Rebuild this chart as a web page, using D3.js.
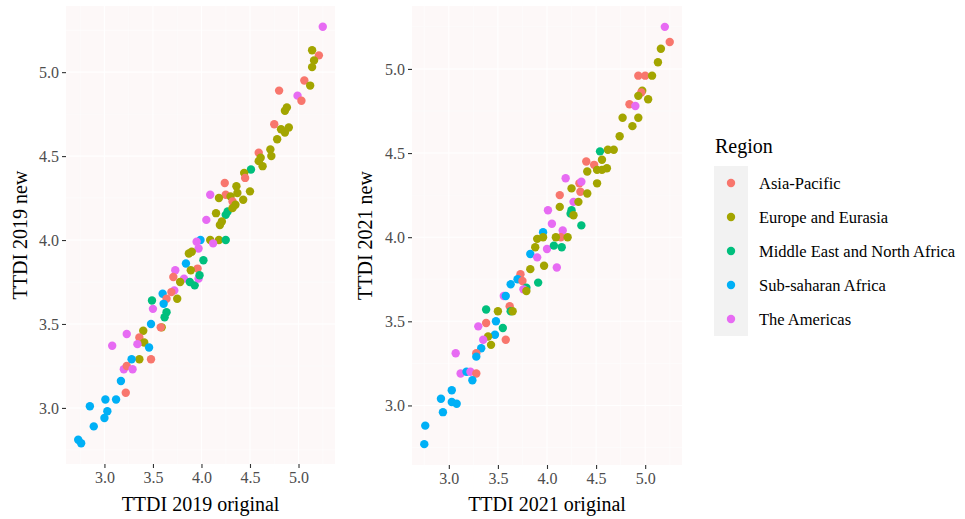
<!DOCTYPE html>
<html>
  <head>
    <meta http-equiv="Content-Type" content="text/html;charset=utf-8"/>
    <title>TTDI original vs new</title>
    <script src="https://d3js.org/d3.v7.min.js"></script>
  </head>
  <body>
    <div id="content"></div>
    <style>
      body { margin: 0; background: #fff; }
      #content { position: relative; }
      text { font-family: "Liberation Serif", "DejaVu Serif", serif; }
    </style>
    <script type="text/javascript">

        // region names and ggplot default hue colours
        const regions = ['Asia-Pacific', 'Europe and Eurasia', 'Middle East and North Africa', 'Sub-saharan Africa', 'The Americas']
        const regionColors = ['#F8766D', '#A3A500', '#00BF7D', '#00B0F6', '#E76BF3']

        // 2019 panel: original score, new score, region index
        const orig2019 = [
            5.25, 5.14, 5.21, 5.16, 5.14, 5.06, 5.12, 4.80, 4.99, 5.03,
            4.88, 4.86, 4.75, 4.82, 4.90, 4.86, 4.78, 4.59, 4.71, 4.72,
            4.61, 4.59, 4.63, 4.51, 4.44, 4.45, 4.50, 4.36, 4.37, 4.24,
            4.25, 4.09, 4.18, 4.30, 4.43, 4.32, 4.35, 4.27, 4.25, 4.15,
            4.32, 4.05, 4.21, 4.19, 3.99, 3.95, 4.09, 4.18, 4.25, 4.12,
            3.97, 3.87, 3.90, 4.02, 3.84, 3.96, 3.89, 3.73, 3.71, 3.82,
            3.78, 3.88, 3.93, 3.97, 3.98, 3.72, 3.69, 3.60, 3.75, 3.64,
            3.49, 3.61, 3.50, 3.64, 3.62, 3.48, 3.59, 3.58, 3.23, 3.40,
            3.36, 3.41, 3.34, 3.46, 3.08, 3.36, 3.48, 3.28, 3.20, 3.23,
            3.29, 3.17, 3.22, 3.12, 3.01, 2.85, 3.03, 3.00, 2.89, 2.73,
            2.76
        ]
        const new2019 = [
            5.27, 5.13, 5.10, 5.07, 5.03, 4.95, 4.92, 4.89, 4.86, 4.83,
            4.79, 4.77, 4.69, 4.66, 4.67, 4.64, 4.60, 4.52, 4.54, 4.50,
            4.49, 4.47, 4.44, 4.42, 4.40, 4.37, 4.29, 4.32, 4.28, 4.34,
            4.27, 4.27, 4.25, 4.26, 4.24, 4.23, 4.21, 4.17, 4.15, 4.16,
            4.19, 4.12, 4.11, 4.09, 4.00, 3.99, 4.00, 4.00, 4.00, 3.98,
            3.95, 3.92, 3.93, 3.88, 3.86, 3.83, 3.82, 3.82, 3.78, 3.77,
            3.75, 3.75, 3.73, 3.77, 3.79, 3.70, 3.69, 3.68, 3.65, 3.65,
            3.64, 3.62, 3.59, 3.57, 3.54, 3.50, 3.48, 3.48, 3.44, 3.46,
            3.42, 3.39, 3.38, 3.36, 3.37, 3.29, 3.29, 3.29, 3.23, 3.25,
            3.23, 3.16, 3.09, 3.05, 3.05, 3.01, 2.98, 2.94, 2.89, 2.81,
            2.79
        ]
        const reg2019 = [
            4, 1, 0, 1, 1, 0, 1, 0, 4, 0,
            1, 1, 0, 1, 1, 1, 1, 0, 1, 1,
            1, 1, 1, 2, 1, 0, 1, 1, 1, 0,
            0, 4, 1, 1, 1, 0, 1, 2, 2, 1,
            1, 4, 1, 1, 3, 4, 1, 1, 2, 4,
            4, 1, 1, 2, 3, 0, 1, 4, 0, 4,
            1, 2, 2, 4, 2, 4, 0, 3, 1, 0,
            2, 3, 4, 2, 2, 3, 1, 0, 4, 1,
            0, 1, 4, 3, 4, 1, 0, 3, 4, 0,
            4, 3, 0, 3, 3, 3, 3, 3, 3, 3,
            3
        ]

        // 2021 panel
        const orig2021 = [
            5.20, 5.25, 5.16, 5.13, 4.93, 5.00, 5.07, 4.97, 4.96, 4.93,
            5.03, 4.84, 4.90, 4.77, 4.93, 4.87, 4.74, 4.68, 4.62, 4.54,
            4.40, 4.48, 4.56, 4.41, 4.51, 4.56, 4.61, 4.51, 4.19, 4.33,
            4.35, 4.25, 4.34, 4.41, 4.13, 4.13, 4.27, 4.32, 4.25, 4.24,
            4.27, 4.35, 4.01, 4.05, 3.96, 4.16, 4.14, 4.21, 3.90, 3.96,
            4.09, 4.00, 4.07, 4.15, 3.88, 3.83, 3.90, 3.83, 3.97, 4.10,
            3.73, 3.70, 3.75, 3.91, 3.63, 3.79, 3.76, 3.79, 3.56, 3.58,
            3.38, 3.50, 3.62, 3.63, 3.65, 3.48, 3.30, 3.38, 3.55, 3.47,
            3.40, 3.58, 3.35, 3.43, 3.33, 3.07, 3.28, 3.28, 3.12, 3.18,
            3.22, 3.28, 3.24, 3.03, 2.92, 3.03, 3.08, 2.94, 2.76, 2.75
        ]
        const new2021 = [
            5.25, 5.16, 5.12, 5.04, 4.96, 4.96, 4.96, 4.87, 4.86, 4.84,
            4.82, 4.79, 4.78, 4.71, 4.71, 4.66, 4.60, 4.52, 4.52, 4.51,
            4.45, 4.43, 4.46, 4.39, 4.40, 4.40, 4.41, 4.32, 4.35, 4.32,
            4.33, 4.29, 4.27, 4.26, 4.25, 4.18, 4.21, 4.21, 4.16, 4.14,
            4.13, 4.07, 4.16, 4.08, 4.03, 4.04, 4.00, 4.00, 3.99, 4.00,
            4.00, 3.93, 3.95, 3.94, 3.94, 3.90, 3.88, 3.81, 3.83, 3.82,
            3.78, 3.75, 3.74, 3.73, 3.72, 3.70, 3.69, 3.68, 3.65, 3.65,
            3.57, 3.56, 3.59, 3.56, 3.56, 3.50, 3.47, 3.49, 3.46, 3.42,
            3.41, 3.39, 3.39, 3.36, 3.34, 3.31, 3.31, 3.29, 3.19, 3.20,
            3.20, 3.19, 3.15, 3.09, 3.04, 3.02, 3.01, 2.96, 2.88, 2.77
        ]
        const reg2021 = [
            4, 0, 1, 1, 0, 0, 1, 1, 0, 1,
            1, 0, 4, 1, 1, 1, 1, 1, 1, 2,
            0, 0, 1, 1, 1, 1, 1, 1, 4, 0,
            4, 1, 0, 1, 0, 1, 4, 1, 2, 2,
            1, 2, 4, 4, 3, 4, 0, 1, 1, 1,
            1, 4, 2, 2, 1, 3, 4, 1, 1, 4,
            0, 3, 0, 2, 3, 2, 4, 1, 4, 3,
            2, 1, 0, 2, 1, 3, 4, 0, 2, 3,
            1, 0, 4, 1, 3, 4, 0, 3, 4, 3,
            4, 0, 3, 3, 3, 3, 3, 3, 3, 3
        ]

        const majorTicks = [3.0, 3.5, 4.0, 4.5, 5.0]
        const minorTicks = [2.75, 3.25, 3.75, 4.25, 4.75, 5.25]

        const width = 965,
            height = 519

        const panels = [
            { xs: orig2019, ys: new2019, rs: reg2019, xTitle: 'TTDI 2019 original', yTitle: 'TTDI 2019 new',
              left: 66, right: 335, top: 6, bottom: 464, yTitleX: 27 },
            { xs: orig2021, ys: new2021, rs: reg2021, xTitle: 'TTDI 2021 original', yTitle: 'TTDI 2021 new',
              left: 412, right: 682, top: 6, bottom: 465, yTitleX: 372 }
        ]

        // ggplot style 5% expansion of the data range
        function expand(values) {
            const lo = d3.min(values), hi = d3.max(values)
            const pad = (hi - lo) * 0.05
            return [lo - pad, hi + pad]
        }

        const svg = d3.select('#content').append('svg')
            .attr('width', width)
            .attr('height', height)

        svg.append('rect')
            .attr('width', width)
            .attr('height', height)
            .attr('fill', '#ffffff')

        panels.forEach(p => {
            const n = Math.min(p.xs.length, p.ys.length, p.rs.length)
            const data = d3.range(n).map(i => ({ x: p.xs[i], y: p.ys[i], r: p.rs[i] }))

            const xScale = d3.scaleLinear()
                .domain(expand(p.xs))
                .range([p.left, p.right])
            const yScale = d3.scaleLinear()
                .domain(expand(p.ys))
                .range([p.bottom, p.top])

            const g = svg.append('g')

            g.append('rect')
                .attr('x', p.left)
                .attr('y', p.top)
                .attr('width', p.right - p.left)
                .attr('height', p.bottom - p.top)
                .attr('fill', '#fdf8f8')

            // grid lines (white, barely visible on the pale panel)
            g.selectAll('.minorx')
                .data(minorTicks.filter(t => t > xScale.domain()[0] && t < xScale.domain()[1]))
                .enter().append('line')
                .attr('x1', d => xScale(d)).attr('x2', d => xScale(d))
                .attr('y1', p.top).attr('y2', p.bottom)
                .attr('stroke', '#fefdfd').attr('stroke-width', 0.6)
            g.selectAll('.minory')
                .data(minorTicks.filter(t => t > yScale.domain()[0] && t < yScale.domain()[1]))
                .enter().append('line')
                .attr('y1', d => yScale(d)).attr('y2', d => yScale(d))
                .attr('x1', p.left).attr('x2', p.right)
                .attr('stroke', '#fefdfd').attr('stroke-width', 0.6)
            g.selectAll('.majorx')
                .data(majorTicks)
                .enter().append('line')
                .attr('x1', d => xScale(d)).attr('x2', d => xScale(d))
                .attr('y1', p.top).attr('y2', p.bottom)
                .attr('stroke', '#ffffff').attr('stroke-width', 1.1)
            g.selectAll('.majory')
                .data(majorTicks)
                .enter().append('line')
                .attr('y1', d => yScale(d)).attr('y2', d => yScale(d))
                .attr('x1', p.left).attr('x2', p.right)
                .attr('stroke', '#ffffff').attr('stroke-width', 1.1)

            const xAxis = d3.axisBottom(xScale)
                .tickValues(majorTicks)
                .tickFormat(d3.format('.1f'))
                .tickSize(4)
                .tickPadding(4)
            const yAxis = d3.axisLeft(yScale)
                .tickValues(majorTicks)
                .tickFormat(d3.format('.1f'))
                .tickSize(4)
                .tickPadding(3)

            const gx = g.append('g')
                .attr('transform', 'translate(0,' + p.bottom + ')')
                .call(xAxis)
            const gy = g.append('g')
                .attr('transform', 'translate(' + p.left + ',0)')
                .call(yAxis)

            ;[gx, gy].forEach(ax => {
                ax.select('.domain').remove()
                ax.selectAll('.tick line').attr('stroke', '#333333').attr('stroke-width', 1.1)
                ax.selectAll('.tick text')
                    .attr('fill', '#4d4d4d')
                    .style('font-size', '16px')
                    .style('font-family', '"Liberation Serif", serif')
            })

            g.selectAll('circle')
                .data(data)
                .enter()
                .append('circle')
                .attr('cx', d => xScale(d.x))
                .attr('cy', d => yScale(d.y))
                .attr('r', 4.2)
                .attr('fill', d => regionColors[d.r])

            g.append('text')
                .attr('x', (p.left + p.right) / 2)
                .attr('y', 511)
                .attr('text-anchor', 'middle')
                .style('font-size', '20px')
                .text(p.xTitle)

            g.append('text')
                .attr('transform', 'translate(' + p.yTitleX + ',' + ((p.top + p.bottom) / 2) + ') rotate(-90)')
                .attr('text-anchor', 'middle')
                .style('font-size', '20px')
                .text(p.yTitle)
        })

        // legend
        const legend = svg.append('g')

        legend.append('text')
            .attr('x', 715)
            .attr('y', 153)
            .style('font-size', '20px')
            .text('Region')

        legend.append('rect')
            .attr('x', 714)
            .attr('y', 166)
            .attr('width', 34)
            .attr('height', 34 * regions.length)
            .attr('fill', '#f2f2f2')

        const keys = legend.selectAll('.key')
            .data(regions)
            .enter()
            .append('g')
            .attr('transform', (d, i) => 'translate(731,' + (183 + i * 34) + ')')

        keys.append('circle')
            .attr('r', 4.2)
            .attr('fill', (d, i) => regionColors[i])

        keys.append('text')
            .attr('x', 28)
            .attr('dy', '0.35em')
            .style('font-size', '16.5px')
            .text(d => d)

    </script>
  </body>
</html>
